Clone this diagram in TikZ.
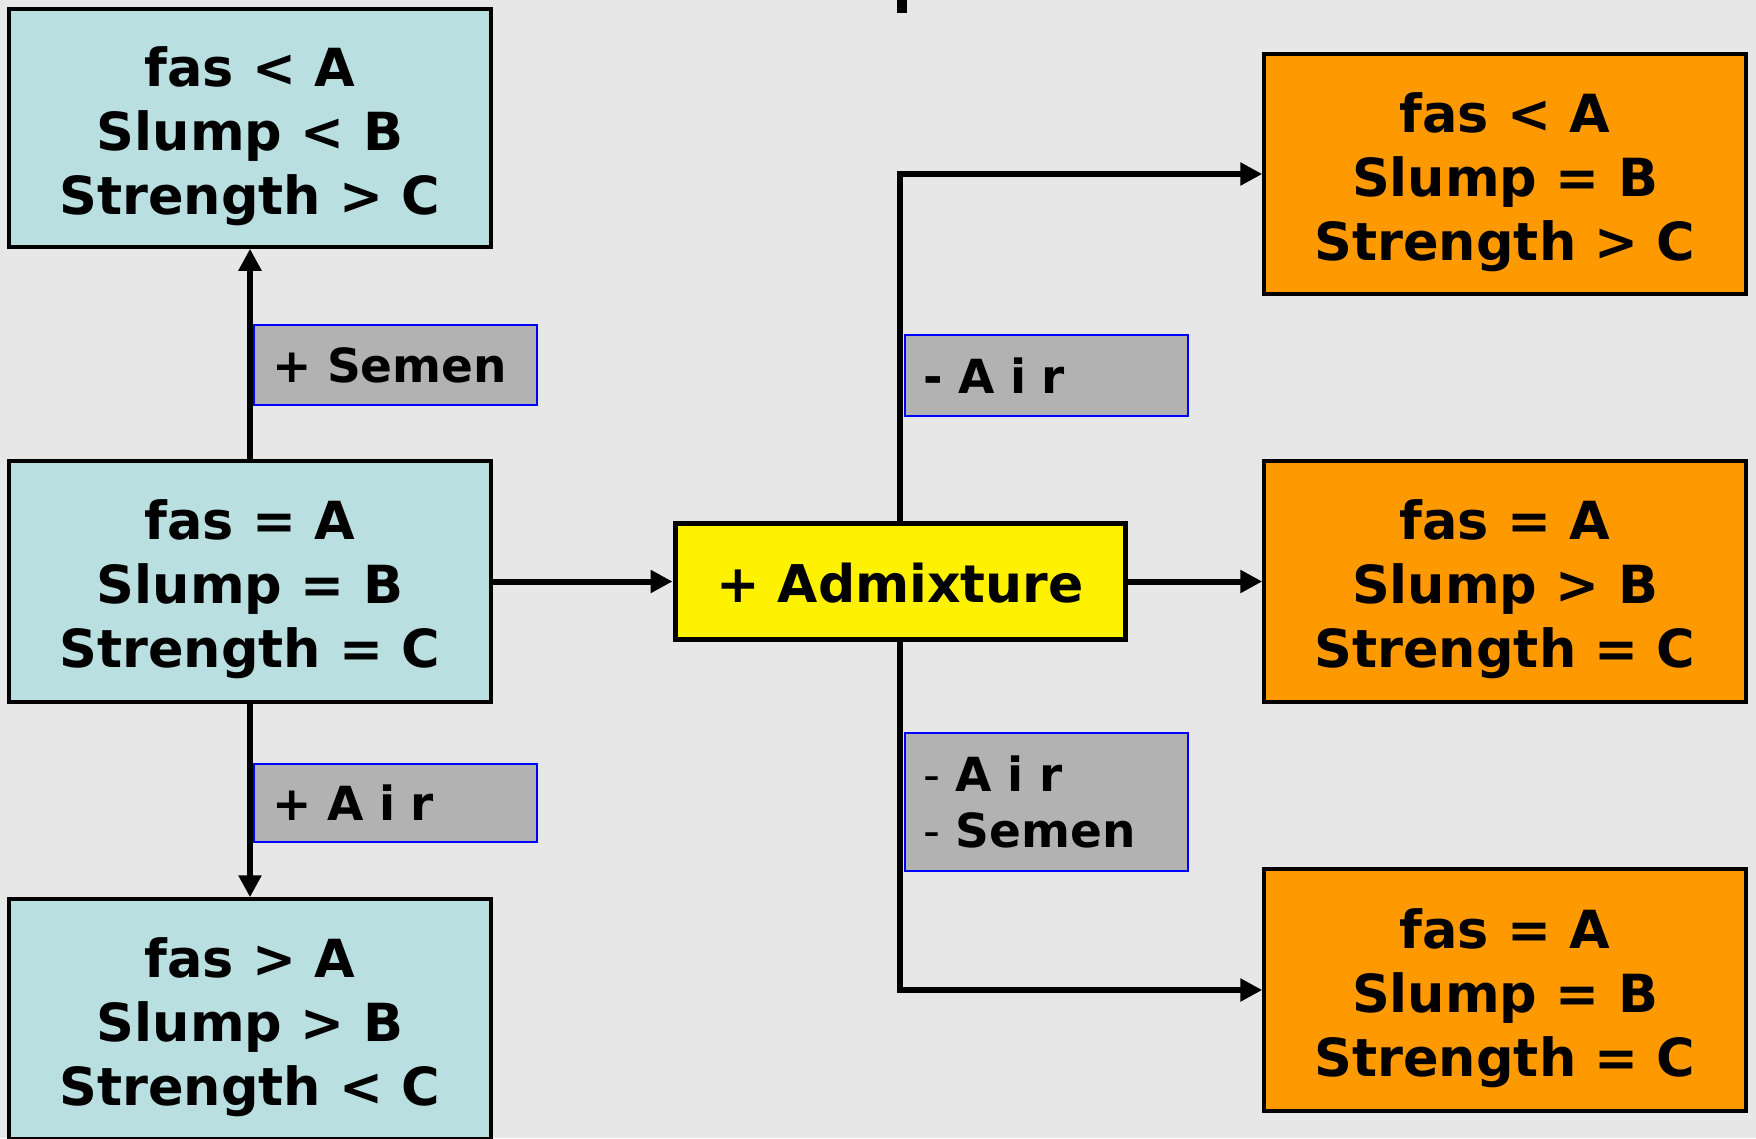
\documentclass[tikz,border=0pt]{standalone}
\usepackage{fontspec}
\setmainfont{DejaVu Sans}
\usetikzlibrary{arrows.meta}
\definecolor{bgc}{HTML}{E7E7E7}
\definecolor{cyanbox}{HTML}{B9DFE1}
\definecolor{orangebox}{HTML}{FF9900}
\definecolor{graylab}{HTML}{B2B2B2}
\definecolor{bluebd}{HTML}{0000FF}
\newcommand{\firstlinelift}{\rule{0pt}{56pt}}
\begin{document}
\begin{tikzpicture}[x=1pt,y=-1pt,
  statebox/.style={draw=black, line width=3.5pt, minimum width=482pt, inner sep=0pt,
    align=center, font=\fontsize{52.5}{64}\selectfont\bfseries},
  cyanstate/.style={statebox, fill=cyanbox},
  orangestate/.style={statebox, fill=orangebox},
  admbox/.style={draw=black, line width=5pt, fill=yellow, minimum width=450pt,
    minimum height=116pt, inner sep=0pt, font=\fontsize{52}{64}\selectfont\bfseries},
  labbox/.style={draw=bluebd, line width=2pt, fill=graylab, anchor=west,
    inner xsep=18pt, inner ysep=0pt, text width=247pt, align=left,
    font=\fontsize{47}{56}\selectfont\bfseries},
  conn/.style={draw=black, line width=6pt, -{Triangle[length=22pt,width=22pt]}}
]
\clip (0,0) rectangle (1756,1138);
\fill[bgc] (0,0) rectangle (1756,1138);
% top stub
\fill[black] (897,0) rectangle (907,13);

% left column
\node[cyanstate, minimum height=238pt] (tl) at (250,128) {\firstlinelift fas < A\\Slump < B\\Strength > C};
\node[cyanstate, minimum height=241pt] (ml) at (250,581.5) {\firstlinelift fas = A\\Slump = B\\Strength = C};
\node[cyanstate, minimum height=240pt] (bl) at (250,1019) {\firstlinelift fas > A\\Slump > B\\Strength < C};

% centre
\node[admbox] (adm) at (900,581.5) {\rule{0pt}{42pt}+ Admixture};

% right column
\node[orangestate, minimum height=240pt] (tr) at (1505,174) {\firstlinelift fas < A\\Slump = B\\Strength > C};
\node[orangestate, minimum height=241pt] (mr) at (1505,581.5) {\firstlinelift fas = A\\Slump > B\\Strength = C};
\node[orangestate, minimum height=242pt] (br) at (1505,990) {\firstlinelift fas = A\\Slump = B\\Strength = C};

% connectors
\draw[conn] (ml.north) -- (tl.south);
\draw[conn] (ml.south) -- (bl.north);
\draw[conn] (ml.east) -- (adm.west);
\draw[conn] (adm.north) |- (tr.west);
\draw[conn] (adm.east) -- (mr.west);
\draw[conn] (adm.south) |- (br.west);

% labels
\node[labbox, minimum height=80pt] (lsemen) at (253,365) {+ Semen};
\node[labbox, minimum height=78pt] (lair) at (253,803) {+ A i r};
\node[labbox, minimum height=81pt] (lminair) at (904,375.5) {- A i r};
\node[labbox, minimum height=138pt] (lminboth) at (904,802) {{\mdseries -} A i r\\{\mdseries -} Semen};
\end{tikzpicture}
\end{document}
